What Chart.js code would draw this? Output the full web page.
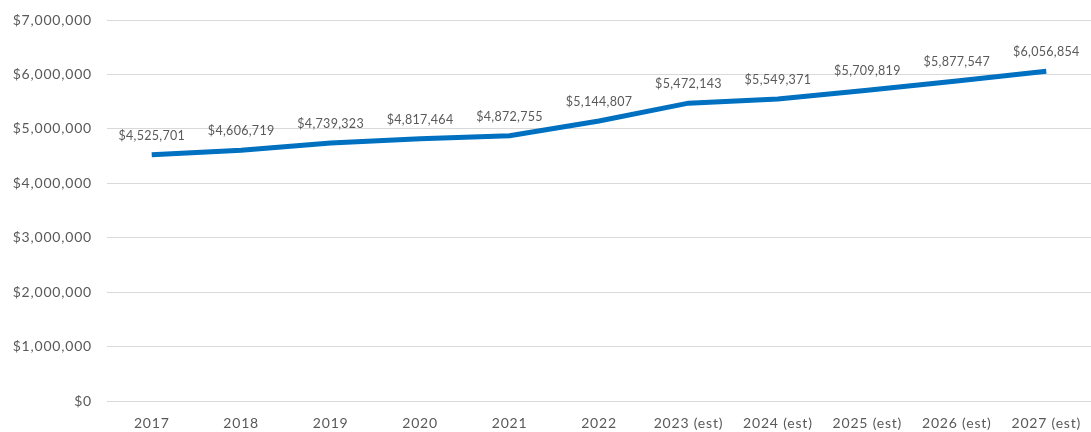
<!DOCTYPE html>
<html>
<head>
<meta charset="utf-8">
<script src="https://cdn.jsdelivr.net/npm/chart.js@4"></script>
<style>
  html, body { margin: 0; padding: 0; background: #fff; }
  #wrap { width: 1091px; height: 432px; position: relative; }
</style>
</head>
<body>
<div id="wrap"><canvas id="c" width="1091" height="432"></canvas></div>
<script>
const categories = ["2017", "2018", "2019", "2020", "2021", "2022", "2023 (est)", "2024 (est)", "2025 (est)", "2026 (est)", "2027 (est)"];
const values = [4525701, 4606719, 4739323, 4817464, 4872755, 5144807, 5472143, 5549371, 5709819, 5877547, 6056854];
const yTicks = [0, 1000000, 2000000, 3000000, 4000000, 5000000, 6000000, 7000000];

const fmt = v => "$" + v.toLocaleString("en-US");

const spacingPlugin = {
  id: "spacing",
  beforeDraw(chart) { chart.ctx.letterSpacing = "0.8px"; }
};

const labelPlugin = {
  id: "dataLabels",
  afterDatasetsDraw(chart) {
    const ctx = chart.ctx;
    const meta = chart.getDatasetMeta(0);
    ctx.save();
    ctx.letterSpacing = "0.3px";
    ctx.font = "12.5px Lato";
    ctx.fillStyle = "#595959";
    ctx.textAlign = "center";
    ctx.textBaseline = "middle";
    meta.data.forEach((pt, i) => {
      ctx.fillText(fmt(values[i]), pt.x, pt.y - 19);
    });
    ctx.restore();
  }
};

new Chart(document.getElementById("c"), {
  type: "line",
  data: {
    labels: categories,
    datasets: [{
      data: values,
      borderColor: "#0070C0",
      borderWidth: 5,
      pointRadius: 0,
      tension: 0,
      fill: false
    }]
  },
  options: {
    responsive: false,
    animation: false,
    layout: { padding: { top: 20, right: 0, left: 0, bottom: 0 } },
    plugins: { legend: { display: false }, tooltip: { enabled: false } },
    scales: {
      x: {
        offset: true,
        afterFit(scale) { scale.height = 31; scale.paddingLeft = 0; scale.paddingRight = 0; },
        grid: { display: false },
        border: { display: false },
        ticks: { color: "#595959", font: { family: "Lato", size: 14 }, padding: 6, maxRotation: 0, autoSkip: false }
      },
      y: {
        min: 0,
        max: 7000000,
        afterBuildTicks(scale) { scale.ticks = yTicks.map(v => ({ value: v })); },
        afterFit(scale) { scale.width = 107; scale.paddingTop = 0; scale.paddingBottom = 0; },
        grid: { color: "#d9d9d9", lineWidth: 1, drawTicks: false },
        border: { display: false },
        ticks: { color: "#595959", font: { family: "Lato", size: 14 }, padding: 15, callback: v => fmt(v) }
      }
    }
  },
  plugins: [spacingPlugin, labelPlugin]
});
</script>
</body>
</html>
